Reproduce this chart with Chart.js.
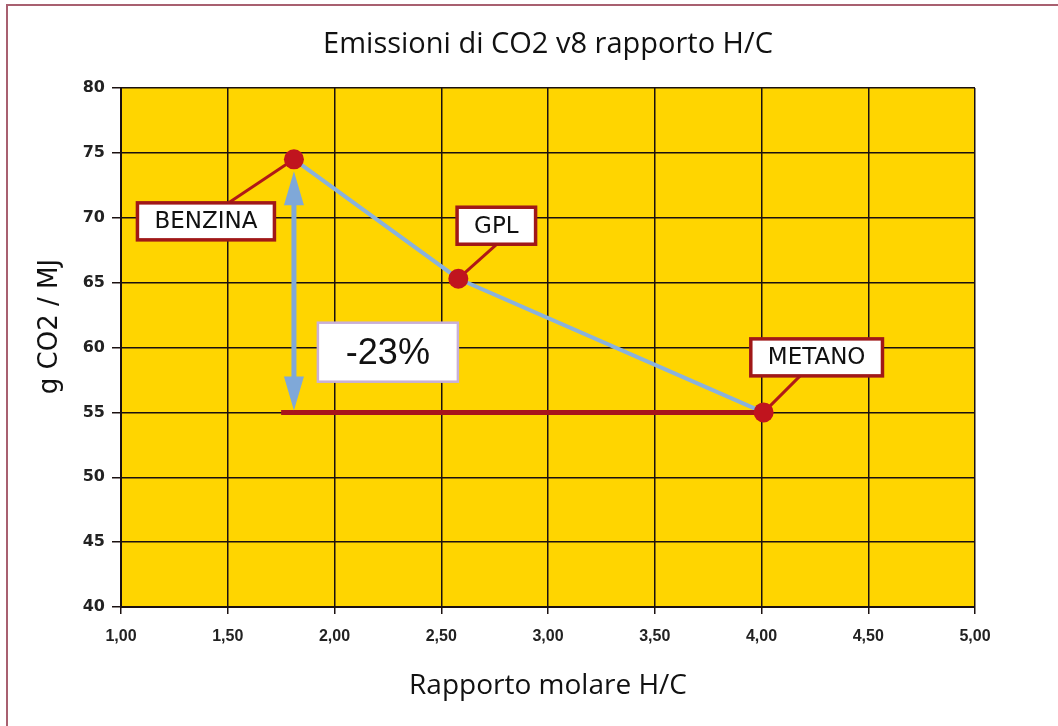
<!DOCTYPE html>
<html>
<head>
<meta charset="utf-8">
<script src="https://cdn.jsdelivr.net/npm/chart.js@4"></script>
<style>
  html, body { margin: 0; padding: 0; background: #fff; }
  #wrap { position: relative; width: 1058px; height: 726px; }
</style>
</head>
<body>
<div id="wrap"><canvas id="co2Chart" width="1058" height="726"></canvas></div>
<script>
// dati
const fuels = ['BENZINA', 'GPL', 'METANO'];
const hcRatio = [1.81, 2.58, 4.01];
const co2Values = [74.5, 65.3, 55.0];
const refLineX = [1.75, 4.01];
const refLineY = [55.0, 55.0];
const reductionLabel = '-23%';
const xTicks = [1.0, 1.5, 2.0, 2.5, 3.0, 3.5, 4.0, 4.5, 5.0];
const yTicks = [40, 45, 50, 55, 60, 65, 70, 75, 80];
const chartTitle = 'Emissioni di CO2 v8 rapporto H/C';
const yTitle = 'g CO2 / MJ';

const fuelPoints = hcRatio.map((x, i) => ({ x: x, y: co2Values[i] }));
const refPoints = refLineX.map((x, i) => ({ x: x, y: refLineY[i] }));

// label box offsets (pixels) relative to each point
const labelOffsets = {
    BENZINA: { dx: -88, dy: 62, lx: -66, ly: 44 },
    GPL:     { dx: 38,  dy: -53, lx: 38, ly: -34 },
    METANO:  { dx: 53,  dy: -55, lx: 37, ly: -37 }
};

const frame = {
    id: 'frame',
    beforeDraw(chart) {
        const c = chart.ctx;
        const a = chart.chartArea;
        c.save();
        c.strokeStyle = '#a86070';
        c.lineWidth = 2;
        c.strokeRect(7, 5, 1200, 900);
        c.fillStyle = '#ffd500';
        c.fillRect(a.left, a.top, a.right - a.left, a.bottom - a.top);

        // titolo centrato sull'area del grafico
        c.fillStyle = '#111';
        c.textAlign = 'center';
        c.textBaseline = 'middle';
        c.font = '29px "Open Sans", sans-serif';
        c.fillText(chartTitle, (a.left + a.right) / 2, 45);

        // titolo asse y
        c.translate(50, (a.top + a.bottom) / 2 - 21);
        c.rotate(-Math.PI / 2);
        c.font = '26px "DejaVu Sans", sans-serif';
        c.fillText(yTitle, 0, 0);
        c.restore();
    }
};

const annotations = {
    id: 'annotations',
    afterDatasetsDraw(chart) {
        const c = chart.ctx;
        const xs = chart.scales.x, ys = chart.scales.y;

        // doppia freccia
        const ax = xs.getPixelForValue(hcRatio[0]);
        const ay1 = ys.getPixelForValue(co2Values[0]) + 12;
        const ay2 = ys.getPixelForValue(refLineY[0]) - 2;
        c.save();
        c.strokeStyle = '#7fa8d8';
        c.fillStyle = '#7fa8d8';
        c.lineWidth = 5;
        c.beginPath();
        c.moveTo(ax, ay1 + 30);
        c.lineTo(ax, ay2 - 30);
        c.stroke();
        c.beginPath();
        c.moveTo(ax, ay1); c.lineTo(ax - 10, ay1 + 34); c.lineTo(ax + 10, ay1 + 34); c.closePath();
        c.fill();
        c.beginPath();
        c.moveTo(ax, ay2); c.lineTo(ax - 10, ay2 - 34); c.lineTo(ax + 10, ay2 - 34); c.closePath();
        c.fill();

        // riquadro -23%
        const bx = xs.getPixelForValue(2.25), by = ys.getPixelForValue(59.6);
        c.fillStyle = '#ffffff';
        c.fillRect(bx - 70, by - 30, 140, 59);
        c.strokeStyle = '#c8b0d8';
        c.lineWidth = 2.5;
        c.strokeRect(bx - 70, by - 30, 140, 59);
        c.fillStyle = '#111';
        c.font = '36px "Liberation Sans", Arial, sans-serif';
        c.textAlign = 'center';
        c.textBaseline = 'middle';
        c.fillText(reductionLabel, bx, by + 1);

        // etichette carburanti
        c.font = '23px "DejaVu Sans", sans-serif';
        fuels.forEach((name, i) => {
            const px = xs.getPixelForValue(hcRatio[i]);
            const py = ys.getPixelForValue(co2Values[i]);
            const o = labelOffsets[name];
            const w = c.measureText(name).width + 34;
            const h = 37;
            c.strokeStyle = '#b01818';
            c.lineWidth = 3;
            c.beginPath();
            c.moveTo(px, py);
            c.lineTo(px + o.lx, py + o.ly);
            c.stroke();
            const cx = px + o.dx, cy = py + o.dy;
            c.fillStyle = '#ffffff';
            c.fillRect(cx - w / 2, cy - h / 2, w, h);
            c.lineWidth = 3.5;
            c.strokeStyle = '#a01818';
            c.strokeRect(cx - w / 2, cy - h / 2, w, h);
            c.fillStyle = '#111';
            c.fillText(name, cx, cy + 1);
        });

        // punti
        fuels.forEach((name, i) => {
            const px = xs.getPixelForValue(hcRatio[i]);
            const py = ys.getPixelForValue(co2Values[i]);
            c.fillStyle = '#c0141e';
            c.beginPath();
            c.arc(px, py, 10, 0, Math.PI * 2);
            c.fill();
        });
        c.restore();
    }
};

const ctx = document.getElementById('co2Chart').getContext('2d');
new Chart(ctx, {
    type: 'scatter',
    data: {
        datasets: [
            {
                label: 'riferimento',
                data: refPoints,
                showLine: true,
                borderColor: '#a8141c',
                borderWidth: 5,
                pointRadius: 0
            },
            {
                label: 'CO2',
                data: fuelPoints,
                showLine: true,
                borderColor: '#8ab2dc',
                borderWidth: 4,
                pointRadius: 0
            }
        ]
    },
    options: {
        responsive: false,
        animation: false,
        layout: { padding: { top: 88, right: 83, bottom: 0, left: 0 } },
        plugins: {
            legend: { display: false },
            tooltip: { enabled: false },
            title: { display: false }
        },
        scales: {
            x: {
                type: 'linear',
                min: 1, max: 5,
                afterBuildTicks(axis) { axis.ticks = xTicks.map(v => ({ value: v })); },
                grid: { color: '#1a1010', lineWidth: 1.5, tickLength: 7, drawTicks: true },
                border: { color: '#1a1010', width: 2 },
                ticks: {
                    color: '#222',
                    padding: 13,
                    font: { family: 'Liberation Sans', size: 16, weight: 'bold' },
                    callback: v => v.toFixed(2).replace('.', ',')
                },
                title: {
                    display: true,
                    text: 'Rapporto molare H/C',
                    color: '#111',
                    font: { family: 'Open Sans', size: 28 },
                    padding: { top: 0, bottom: 23 }
                },
                afterFit(axis) { axis.height = 119; }
            },
            y: {
                type: 'linear',
                min: 40, max: 80,
                afterBuildTicks(axis) { axis.ticks = yTicks.map(v => ({ value: v })); },
                grid: { color: '#1a1010', lineWidth: 1.5, tickLength: 9, drawTicks: true },
                border: { color: '#1a1010', width: 2 },
                ticks: {
                    color: '#222',
                    padding: 7,
                    font: { family: 'DejaVu Sans', size: 16, weight: 'bold' }
                },
                title: { display: false },
                afterFit(axis) { axis.width = 121; }
            }
        }
    },
    plugins: [frame, annotations]
});
</script>
</body>
</html>
